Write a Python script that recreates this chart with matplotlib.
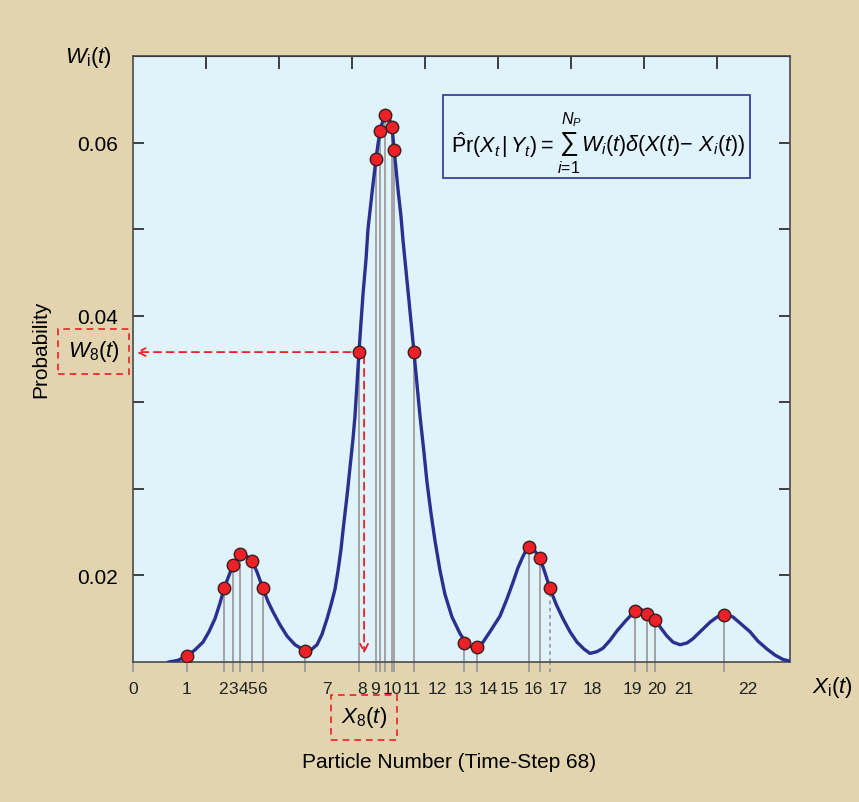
import matplotlib
matplotlib.use("Agg")
import matplotlib.pyplot as plt
from matplotlib.patches import Rectangle

plt.rcParams['font.family'] = ['Liberation Sans', 'DejaVu Sans']
plt.rcParams['mathtext.fontset'] = 'custom'
plt.rcParams['mathtext.rm'] = 'Liberation Sans'
plt.rcParams['mathtext.it'] = 'Liberation Sans:italic'
plt.rcParams['mathtext.bf'] = 'Liberation Sans:bold'

#---------------------------data---------------------------#
# posterior density curve (state position, probability)
curve_x = [0.493, 0.616, 0.740, 0.849, 0.959, 1.041, 1.123, 1.192, 1.247, 1.315,
           1.370, 1.425, 1.466, 1.521, 1.562, 1.630, 1.699, 1.781, 1.849, 1.918,
           2.014, 2.110, 2.219, 2.356, 2.438, 2.521, 2.589, 2.658, 2.712, 2.767,
           2.808, 2.849, 2.877, 2.932, 2.973, 3.014, 3.041, 3.096, 3.123, 3.151,
           3.192, 3.219, 3.260, 3.288, 3.329, 3.356, 3.384, 3.425, 3.466, 3.507,
           3.548, 3.575, 3.603, 3.630, 3.671, 3.699, 3.740, 3.781, 3.849, 3.890,
           3.932, 3.986, 4.027, 4.082, 4.137, 4.205, 4.274, 4.370, 4.479, 4.562,
           4.644, 4.712, 4.795, 4.890, 5.027, 5.123, 5.205, 5.274, 5.342, 5.397,
           5.452, 5.507, 5.575, 5.644, 5.712, 5.795, 5.890, 5.986, 6.082, 6.178,
           6.260, 6.356, 6.438, 6.534, 6.630, 6.753, 6.877, 6.959, 7.041, 7.096,
           7.151, 7.233, 7.315, 7.397, 7.493, 7.589, 7.671, 7.781, 7.904, 8.000,
           8.096, 8.164, 8.219, 8.329, 8.452, 8.562, 8.685, 8.795, 8.904, 9.000]
curve_p = [0.0000, 0.0002, 0.0007, 0.0014, 0.0023, 0.0035, 0.0050, 0.0068, 0.0085, 0.0100,
           0.0112, 0.0120, 0.0125, 0.0125, 0.0122, 0.0117, 0.0104, 0.0085, 0.0070, 0.0058,
           0.0043, 0.0030, 0.0020, 0.0013, 0.0014, 0.0020, 0.0032, 0.0050, 0.0066, 0.0084,
           0.0105, 0.0130, 0.0152, 0.0192, 0.0225, 0.0258, 0.0284, 0.0358, 0.0392, 0.0425,
           0.0465, 0.0500, 0.0531, 0.0552, 0.0581, 0.0598, 0.0613, 0.0626, 0.0632, 0.0629,
           0.0618, 0.0594, 0.0570, 0.0546, 0.0515, 0.0487, 0.0452, 0.0417, 0.0358, 0.0321,
           0.0284, 0.0242, 0.0208, 0.0172, 0.0140, 0.0106, 0.0078, 0.0052, 0.0033, 0.0022,
           0.0017, 0.0017, 0.0023, 0.0035, 0.0053, 0.0073, 0.0092, 0.0109, 0.0122, 0.0131,
           0.0133, 0.0128, 0.0120, 0.0103, 0.0085, 0.0067, 0.0050, 0.0035, 0.0023, 0.0015,
           0.0010, 0.0012, 0.0016, 0.0025, 0.0036, 0.0048, 0.0059, 0.0061, 0.0055, 0.0052,
           0.0049, 0.0039, 0.0030, 0.0023, 0.0020, 0.0022, 0.0027, 0.0036, 0.0046, 0.0052,
           0.0054, 0.0054, 0.0052, 0.0044, 0.0035, 0.0024, 0.0015, 0.0008, 0.0003, 0.0001]

# particles: position X_i(t) and weight W_i(t)
particle_x = [0.740, 1.247, 1.370, 1.466, 1.630, 1.781, 2.356, 3.096, 3.329, 3.384,
              3.452, 3.548, 3.575, 3.849, 4.534, 4.712, 5.425, 5.575, 5.712, 6.877,
              7.041, 7.151, 8.096]
particle_w = [0.0007, 0.0085, 0.0112, 0.0125, 0.0117, 0.0085, 0.0013, 0.0358, 0.0581, 0.0613,
              0.0632, 0.0618, 0.0591, 0.0358, 0.0022, 0.0017, 0.0133, 0.0120, 0.0085, 0.0059,
              0.0055, 0.0049, 0.0054]
dotted_particle = 18   # stem drawn dotted
marked_particle = 7    # W_8 / X_8 call-out

# particle number labels under the axis
number_labels = [str(n) for n in range(23)]
number_pos = [0.000, 0.740, 1.233, 1.370, 1.507, 1.630, 1.767, 2.658, 3.137, 3.315,
              3.548, 3.822, 4.164, 4.521, 4.863, 5.151, 5.479, 5.822, 6.288, 6.836,
              7.178, 7.548, 8.425]

yticks = [0.01, 0.02, 0.03, 0.04, 0.05, 0.06]
ytick_labels = ['0.02', '', '', '0.04', '', '0.06']
#----------------------------------------------------------#

tan = '#E2D4AF'
sky = '#E0F2FA'
navy = '#29308F'
red = '#EC2027'
grey = '#9C9C9C'


def fx(px):
    return px / 859


def fy(py):
    return 1 - py / 803


fig = plt.figure(figsize=(8.59, 8.03), dpi=100, facecolor=tan)
ax = fig.add_axes([0.1548, 0.1743, 0.7649, 0.7547])
ax.set_facecolor(sky)
ax.set_xlim(0, 9)
ax.set_ylim(0, 0.07)

for side in ax.spines.values():
    side.set_color('#4a4a4a')
    side.set_linewidth(1.2)

# stems from the axis up to each particle, with stubs hanging below it
for i, (x, w) in enumerate(zip(particle_x, particle_w)):
    ls = (0, (2, 2)) if i == dotted_particle else '-'
    ax.vlines(x, 0, w, color=grey, lw=1.3, linestyles=ls, zorder=2)
    ax.vlines(x, -0.016, 0, color=grey, lw=1.3, linestyles=ls,
              transform=ax.get_xaxis_transform(), clip_on=False)
ax.vlines(0, -0.016, 0, color=grey, lw=1.3, transform=ax.get_xaxis_transform(), clip_on=False)

ax.plot(curve_x, curve_p, color=navy, lw=2.4, zorder=3, solid_joinstyle='round')
ax.plot(particle_x, particle_w, 'o', color=red, mec='#3b1f1f', mew=1.0, ms=9, zorder=5)

# ticks: inward on left/right/top, none of the default bottom ticks
ax.set_xticks([])
ax.set_yticks(yticks, ytick_labels)
ax.tick_params(axis='y', direction='in', left=True, right=True, length=8, width=1.2,
               pad=11, labelsize=15, color='#222222')
top = ax.secondary_xaxis('top')
top.set_xticks(range(1, 9))
top.tick_params(direction='in', length=9, width=1.2, labeltop=False, color='#222222')

for lbl, pos in zip(number_labels, number_pos):
    ax.text(pos, -0.043, lbl, transform=ax.get_xaxis_transform(), ha='center', va='center',
            fontsize=12.5, color='#222222')

# call-out arrows for particle 8
xm, wm = particle_x[marked_particle], particle_w[marked_particle]
dash = dict(arrowstyle='->', color=red, lw=1.3, linestyle=(0, (4, 3)), shrinkA=6, shrinkB=1,
            mutation_scale=14)
ax.annotate('', xy=(0.02, wm), xytext=(xm, wm), arrowprops=dash, zorder=4)
ax.annotate('', xy=(xm + 0.07, 0.0008), xytext=(xm + 0.07, wm), arrowprops=dict(dash, shrinkA=3),
            zorder=4)

box = dict(boxstyle='square,pad=0.45', fc='none', ec=red, lw=1.2, ls=(0, (4, 3)))
fig.text(fx(93.5), fy(352), r'$W_8(t)$', fontsize=16, ha='center', va='center', bbox=box)
fig.text(fx(364), fy(718), r'$X_8(t)$', fontsize=16, ha='center', va='center', bbox=box)

# posterior formula, with a large summation sign
fig.patches.append(Rectangle((fx(443), fy(179)), 307 / 859, 83 / 803,
                             transform=fig.transFigure, fc=sky, ec='#3C409C', lw=1.3))
fig.text(fx(554), fy(145), r'$\hat{\mathrm{P}}\mathrm{r}(X_t\,|\,Y_t) =$',
         fontsize=15.5, ha='right', va='center')
fig.text(fx(569), fy(144), '\u2211', fontsize=19, ha='center', va='center')
fig.text(fx(571), fy(120), r'$N_P$', fontsize=11.5, ha='center', va='center')
fig.text(fx(569), fy(168), r'$i\!=\!1$', fontsize=11.5, ha='center', va='center')
fig.text(fx(581), fy(145), r'$W_i(t)\delta(X(t)\!-\,X_i(t))$',
         fontsize=15.5, ha='left', va='center')

fig.text(fx(88), fy(58), r'$W_\mathrm{i}(t)$', fontsize=16, ha='center', va='center')
fig.text(fx(832), fy(688), r'$X_\mathrm{i}(t)$', fontsize=16, ha='center', va='center')
fig.text(fx(41), fy(349), 'Probability', rotation=90, fontsize=15, ha='center', va='center')
fig.text(fx(449), fy(763), 'Particle Number (Time-Step 68)', fontsize=15,
         ha='center', va='center')

fig.savefig('out.png', dpi=100, facecolor=tan)
